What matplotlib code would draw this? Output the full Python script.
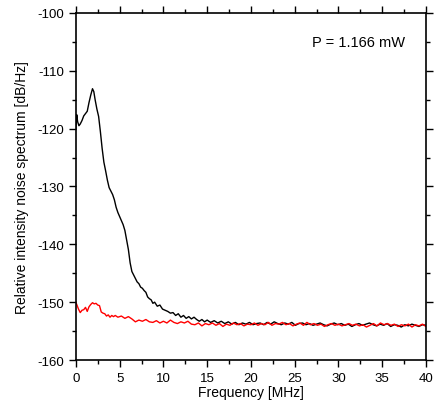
import numpy as np
import matplotlib
matplotlib.use('Agg')
import matplotlib.pyplot as plt
from matplotlib.ticker import MultipleLocator

plt.rcParams['font.family'] = ['Liberation Sans', 'DejaVu Sans']
plt.rcParams['axes.unicode_minus'] = False

# black trace (P = 1.166 mW), head with the peak
black_f_head = [0, 0.1, 0.2, 0.35, 0.5, 0.7, 0.9, 1.1, 1.3, 1.5, 1.7, 1.9, 2.05, 2.2, 2.4,
                2.6, 2.8, 3.0, 3.2, 3.4, 3.6, 3.8, 4.0, 4.2, 4.4, 4.6, 4.8, 5.0, 5.2, 5.4,
                5.6, 5.8, 6.0, 6.2, 6.4, 6.6, 6.8, 7.0, 7.2, 7.4, 7.6, 7.8, 8.0, 8.2, 8.4,
                8.6, 8.8, 9.0, 9.3, 9.6, 9.9, 10.2, 10.5, 10.8, 11.1, 11.4, 11.7, 12.0,
                12.3, 12.6, 12.9, 13.2, 13.5, 13.8, 14.1, 14.4, 14.7, 15.0]
black_head = [-120.0, -117.6, -118.8, -119.5, -119.2, -118.6, -117.8, -117.4, -117.0,
              -115.5, -114.2, -113.1, -113.6, -115.0, -116.6, -117.9, -120.5, -123.4,
              -125.8, -127.3, -128.9, -130.2, -130.8, -131.4, -132.3, -133.6, -134.5,
              -135.2, -135.9, -136.6, -137.6, -139.3, -140.9, -143.2, -144.7, -145.3,
              -145.9, -146.5, -146.8, -147.4, -147.6, -148.0, -148.3, -149.1, -149.4,
              -149.6, -150.2, -150.0, -150.7, -150.5, -151.2, -151.4, -151.6, -151.9,
              -151.8, -152.3, -152.0, -152.6, -152.3, -152.8, -152.5, -152.9, -152.6,
              -153.0, -153.3, -153.0, -153.4, -153.1]
black_tail = [-153.5, -153.2, -153.6, -153.3, -153.7, -153.4, -153.8, -153.5, -153.9,
              -153.6, -153.8, -153.5, -153.9, -153.7, -153.6, -153.9, -153.5, -153.8,
              -153.4, -153.7, -153.9, -153.6, -153.8, -153.5, -154.0, -153.7, -153.6,
              -153.9, -153.7, -154.0, -153.8, -153.6, -153.9, -154.1, -153.8, -153.6,
              -153.9, -153.7, -154.0, -153.8, -154.2, -153.9, -153.7, -154.0, -153.8,
              -153.6, -153.9, -154.1, -153.8, -154.0, -153.7, -154.2, -153.9, -154.0,
              -154.3, -153.9, -154.1, -153.8, -154.0, -154.2, -153.9, -154.0]

# red trace (shot-noise reference)
red_f_head = [0, 0.15, 0.3, 0.5, 0.7, 0.9, 1.1, 1.3, 1.5, 1.7, 1.9, 2.1, 2.3, 2.5, 2.7,
              2.9, 3.1, 3.3, 3.5, 3.7, 3.9, 4.1, 4.3, 4.5]
red_head = [-150.0, -150.6, -151.2, -151.8, -151.4, -151.3, -150.9, -151.6, -150.8,
            -150.4, -150.1, -150.3, -150.2, -150.5, -150.6, -151.7, -151.9, -152.0,
            -152.4, -152.2, -152.6, -152.3, -152.5, -152.3]
red_tail = [-152.6, -152.4, -152.8, -152.5, -152.9, -153.4, -153.1, -153.3, -153.0,
            -153.4, -153.5, -153.2, -153.6, -153.3, -153.6, -153.1, -153.5, -153.7,
            -153.4, -153.6, -153.3, -153.8, -153.9, -153.6, -154.1, -153.7, -153.9,
            -153.6, -154.0, -153.7, -154.2, -153.8, -154.0, -153.6, -153.9, -153.7,
            -154.1, -153.8, -153.9, -153.6, -154.0, -153.7, -153.9, -153.5, -154.0,
            -153.7, -153.8, -153.5, -153.9, -153.7, -154.1, -153.8, -153.6, -154.0,
            -153.5, -153.9, -153.7, -154.0, -153.8, -154.2, -153.9, -153.7, -154.0,
            -153.8, -154.1, -153.9, -153.7, -154.0, -153.8, -154.1, -153.9, -154.3,
            -154.0, -153.7, -154.1, -153.6, -153.9, -153.7, -154.0, -153.8, -154.2,
            -153.9, -154.1, -153.8, -154.3, -153.9, -154.1, -153.8, -154.2]

black_f = np.concatenate([black_f_head, np.linspace(15.4, 40, len(black_tail))])
black_y = np.concatenate([black_head, black_tail])
red_f = np.concatenate([red_f_head, np.linspace(4.8, 40, len(red_tail))])
red_y = np.concatenate([red_head, red_tail])

fig = plt.figure(figsize=(4.36, 4.10), dpi=100)
ax = fig.add_axes([0.174, 0.1195, 0.803, 0.8465])

ax.plot(black_f, black_y, color='black', lw=1.0)
ax.plot(red_f, red_y, color='red', lw=1.0)

ax.set_xlim(0, 40)
ax.set_ylim(-160, -100)
ax.xaxis.set_major_locator(MultipleLocator(5))
ax.xaxis.set_minor_locator(MultipleLocator(2.5))
ax.yaxis.set_major_locator(MultipleLocator(10))
ax.yaxis.set_minor_locator(MultipleLocator(5))
ax.tick_params(which='both', direction='out', top=True, right=True,
               labeltop=False, labelright=False, labelsize=9.5, width=1.0)
ax.tick_params(which='major', length=5)
ax.tick_params(which='minor', length=3)
for s in ax.spines.values():
    s.set_linewidth(1.2)

ax.set_xlabel('Frequency [MHz]', fontsize=10, labelpad=1)
ax.set_ylabel('Relative intensity noise spectrum [dB/Hz]', fontsize=10, labelpad=6)
ax.text(27.0, -105, 'P = 1.166 mW', fontsize=10.5, va='center')

fig.savefig('out.png', dpi=100)
